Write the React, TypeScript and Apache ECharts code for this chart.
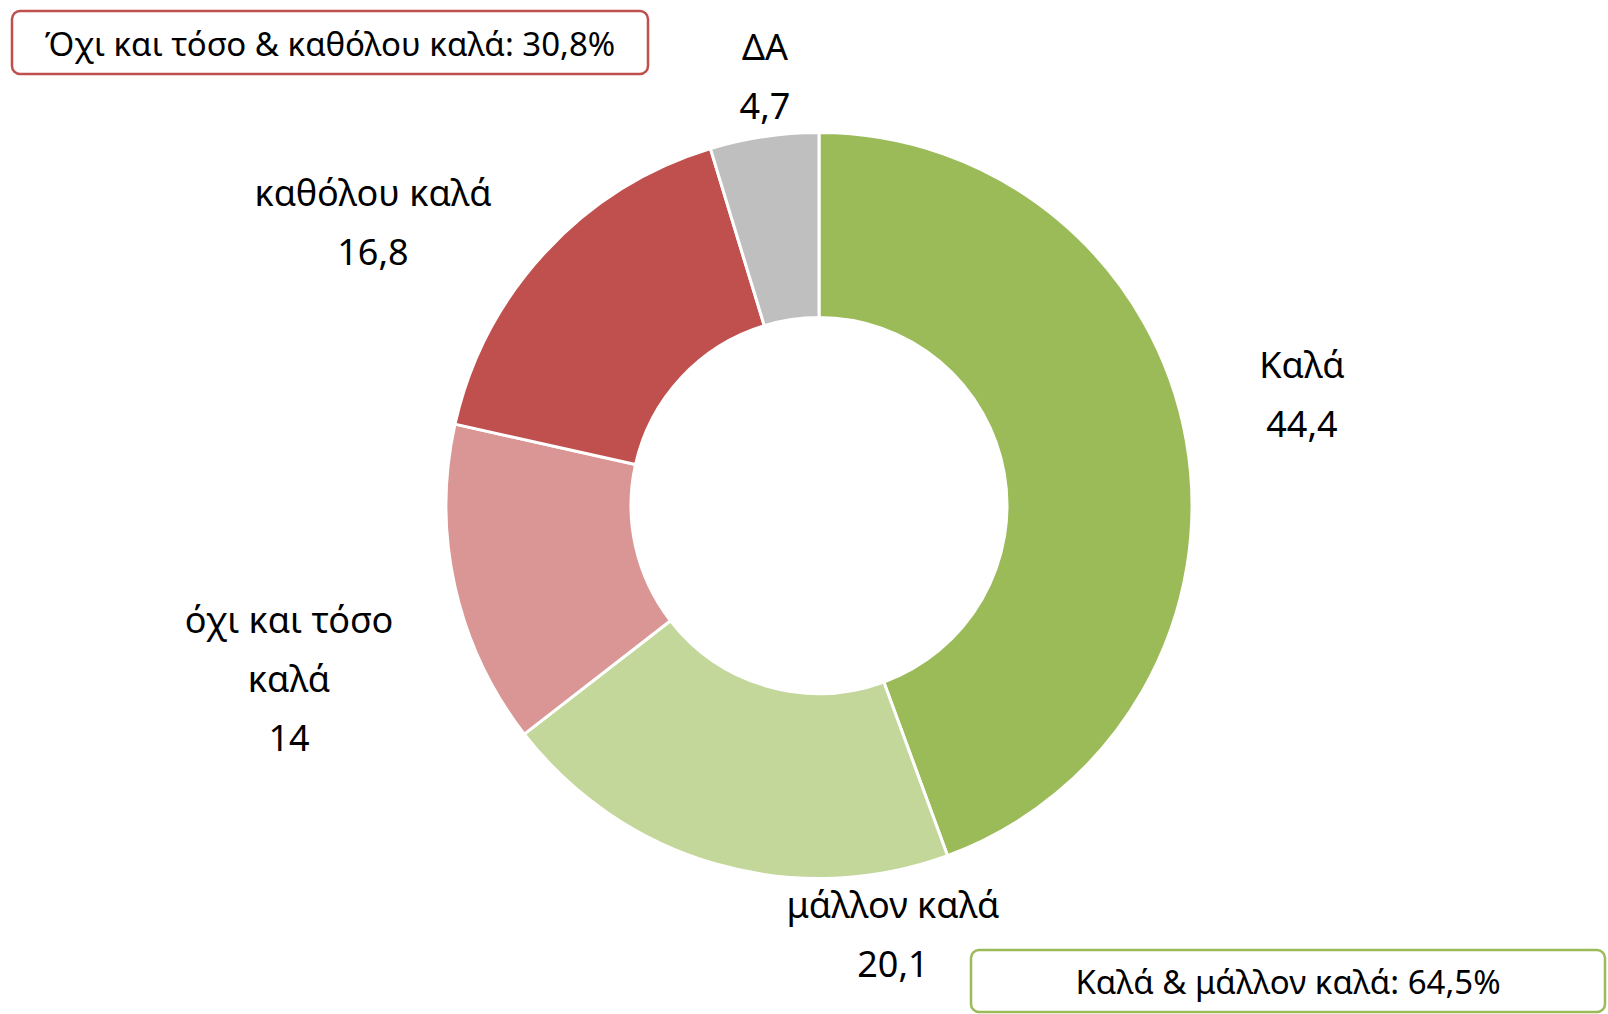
import React, { useEffect, useRef } from "react";
import * as echarts from "echarts";

const categories = ["Καλά", "μάλλον καλά", "όχι και τόσο\nκαλά", "καθόλου καλά", "ΔΑ"];
const values = [44.4, 20.1, 14, 16.8, 4.7];
const valueLabels = ["44,4", "20,1", "14", "16,8", "4,7"];
const colors = ["#9BBB59", "#C4D79B", "#D99694", "#C0504D", "#BFBFBF"];
// label anchor (centre of the text block) as [x, y] in px
const labelAnchors = [
  [1302, 394],
  [893, 934],
  [289, 678],
  [373, 222],
  [765, 76],
];
const summaryNegative = "Όχι και τόσο & καθόλου καλά: 30,8%";
const summaryPositive = "Καλά & μάλλον καλά: 64,5%";

const W = 1608;
const H = 1014;
const CX = 819;
const CY = 505.5;
const FONT = "'Noto Sans', 'Open Sans', sans-serif";
const FS = 33;
const LABEL_FS = 36;

export default function App() {
  const ref = useRef<HTMLDivElement>(null);
  useEffect(() => {
    if (!ref.current) return;
    const chart = echarts.init(ref.current, null, { renderer: "svg" });
    chart.setOption({
      animation: false,
      backgroundColor: "#ffffff",
      textStyle: { fontFamily: FONT },
      series: [
        {
          type: "pie",
          center: [CX, CY],
          radius: [188, 373],
          startAngle: 90,
          clockwise: true,
          itemStyle: { borderColor: "#ffffff", borderWidth: 3 },
          label: {
            show: true,
            position: "outside",
            color: "#000000",
            fontFamily: FONT,
            fontSize: LABEL_FS,
            lineHeight: 59,
            align: "center",
            formatter: (p: any) => categories[p.dataIndex] + "\n" + valueLabels[p.dataIndex],
          },
          labelLine: { show: false },
          labelLayout: (p: any) => {
            const a = labelAnchors[p.dataIndex];
            return { x: a[0], y: a[1], align: "center", verticalAlign: "middle" };
          },
          data: values.map((v, i) => ({
            value: v,
            name: categories[i],
            itemStyle: { color: colors[i] },
          })),
        },
      ],
      graphic: [
        {
          type: "rect",
          shape: { x: 12, y: 11, width: 636, height: 63, r: 8 },
          style: { fill: "#ffffff", stroke: "#C0504D", lineWidth: 2.5 },
        },
        {
          type: "text",
          x: 330,
          y: 43,
          style: {
            text: summaryNegative,
            fill: "#000000",
            font: `${FS}px ${FONT}`,
            align: "center",
            verticalAlign: "middle",
          },
        },
        {
          type: "rect",
          shape: { x: 971, y: 950, width: 634, height: 62, r: 8 },
          style: { fill: "#ffffff", stroke: "#9BBB59", lineWidth: 2.5 },
        },
        {
          type: "text",
          x: 1288,
          y: 981,
          style: {
            text: summaryPositive,
            fill: "#000000",
            font: `${FS}px ${FONT}`,
            align: "center",
            verticalAlign: "middle",
          },
        },
      ],
    });
    return () => chart.dispose();
  }, []);
  return (
    <div
      ref={ref}
      style={{ position: "fixed", left: 0, top: 0, width: W, height: H }}
    />
  );
}
